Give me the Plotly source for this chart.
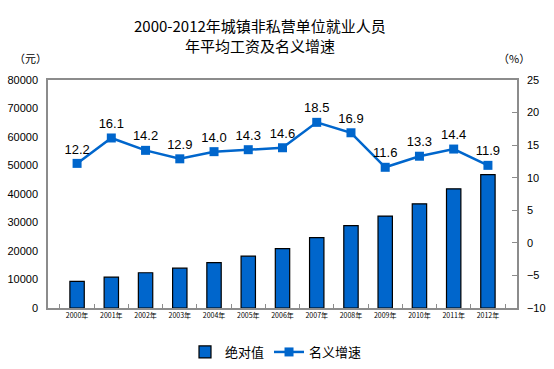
import plotly.graph_objects as go

years = ["2000年", "2001年", "2002年", "2003年", "2004年", "2005年", "2006年",
         "2007年", "2008年", "2009年", "2010年", "2011年", "2012年"]
wages = [9333, 10834, 12373, 13969, 15920, 18200, 20856, 24721, 28898, 32244, 36539, 41799, 46769]
growth = [12.2, 16.1, 14.2, 12.9, 14.0, 14.3, 14.6, 18.5, 16.9, 11.6, 13.3, 14.4, 11.9]

blue = "#0066CC"
axis_col = "#8c8c8c"
font_fam = "Liberation Sans, Arial, Noto Sans CJK SC"

fig = go.Figure()
fig.add_trace(go.Bar(
    x=years, y=wages, name="绝对值",
    marker=dict(color=blue, line=dict(color="black", width=1.2)),
    width=0.42,
))
fig.add_trace(go.Scatter(
    x=years, y=growth, name="名义增速", yaxis="y2",
    mode="lines+markers+text",
    line=dict(color=blue, width=2.5),
    marker=dict(symbol="square", size=9, color=blue),
    text=[f"{v:.1f}" for v in growth], textposition="top center",
    textfont=dict(size=13, color="black", family=font_fam),
))

fig.update_layout(
    width=554, height=369,
    margin=dict(l=48, r=37, t=80, b=61, autoexpand=False),
    plot_bgcolor="white", paper_bgcolor="white",
    font=dict(family=font_fam, color="black"),
    showlegend=True,
    legend=dict(orientation="h", xref="container", yref="container",
                x=276 / 554, xanchor="center", y=1 - 352 / 369, yanchor="middle",
                font=dict(size=13, family="Noto Sans CJK SC")),
    xaxis=dict(
        showline=True, linecolor=axis_col, linewidth=1.5, mirror=True,
        ticks="inside", tickson="boundaries", ticklen=4, tickcolor=axis_col,
        tickfont=dict(size=7, family="Noto Sans CJK SC"),
        showgrid=False, automargin=False,
    ),
    yaxis=dict(
        range=[0, 80000], dtick=10000, tickformat="d", showline=True, linecolor=axis_col, linewidth=1.5,
        showgrid=False, zeroline=False, tickfont=dict(size=11), ticks="",
        ticklabelstandoff=6, automargin=False,
    ),
    yaxis2=dict(
        range=[-10, 25], dtick=5, overlaying="y", side="right",
        showline=True, linecolor=axis_col, linewidth=1.5,
        ticks="inside", ticklen=5, tickcolor=axis_col,
        showgrid=False, zeroline=False, tickfont=dict(size=11), automargin=False,
        ticklabelstandoff=6,
    ),
)

fig.add_annotation(text="2000-2012年城镇非私营单位就业人员<br>年平均工资及名义增速",
                   xref="paper", yref="paper", x=(260 - 48) / 469, y=1.0 + (80 - 13) / 228,
                   xanchor="center", yanchor="top", showarrow=False,
                   font=dict(size=15, family="Noto Sans CJK SC"), align="center")
fig.add_annotation(text="（元）", xref="paper", yref="paper", x=(30 - 48) / 469, y=1 + (80 - 58) / 228,
                   xanchor="center", yanchor="middle", showarrow=False,
                   font=dict(size=11, family="Noto Sans CJK SC"))
fig.add_annotation(text="（%）", xref="paper", yref="paper", x=(496 - 48) / 469, y=1 + (80 - 58) / 228,
                   xanchor="left", yanchor="middle", showarrow=False,
                   font=dict(size=11, family="Noto Sans CJK SC"))

fig.write_html("out.html", config={"displayModeBar": False},
               post_script="document.body.style.margin='0';document.body.style.padding='0';")
